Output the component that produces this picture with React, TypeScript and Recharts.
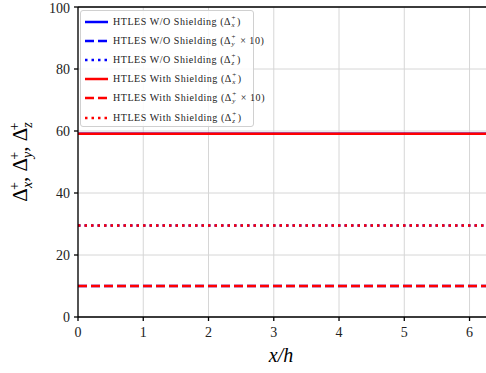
import React from "react";
import {
  LineChart,
  Line,
  XAxis,
  YAxis,
  CartesianGrid,
  ReferenceLine,
} from "recharts";

// x/h positions sampled along the channel (0 .. 2π)
const xPositions = [0, 1, 2, 3, 4, 5, 6, 6.283];

// constant grid spacing values
const noShieldDx = [59.1, 59.1, 59.1, 59.1, 59.1, 59.1, 59.1, 59.1];
const noShieldDy10 = [10, 10, 10, 10, 10, 10, 10, 10];
const noShieldDz = [29.5, 29.5, 29.5, 29.5, 29.5, 29.5, 29.5, 29.5];
const shieldDx = [59.1, 59.1, 59.1, 59.1, 59.1, 59.1, 59.1, 59.1];
const shieldDy10 = [10, 10, 10, 10, 10, 10, 10, 10];
const shieldDz = [29.5, 29.5, 29.5, 29.5, 29.5, 29.5, 29.5, 29.5];

const xTicks = [0, 1, 2, 3, 4, 5, 6];
const yTicks = [0, 20, 40, 60, 80, 100];

const data = xPositions.map((x, i) => ({
  x,
  nDx: noShieldDx[i],
  nDy: noShieldDy10[i],
  nDz: noShieldDz[i],
  sDx: shieldDx[i],
  sDy: shieldDy10[i],
  sDz: shieldDz[i],
}));

const BLUE = "#0000ff";
const RED = "#ff0000";
const FONT = "Liberation Serif, serif";

const series = [
  { key: "nDx", color: BLUE, dash: undefined, label: "HTLES W/O Shielding", comp: "x", times: false },
  { key: "nDy", color: BLUE, dash: "9 4", label: "HTLES W/O Shielding", comp: "y", times: true },
  { key: "nDz", color: BLUE, dash: "2.5 4", label: "HTLES W/O Shielding", comp: "z", times: false },
  { key: "sDx", color: RED, dash: undefined, label: "HTLES With Shielding", comp: "x", times: false },
  { key: "sDy", color: RED, dash: "9 4", label: "HTLES With Shielding", comp: "y", times: true },
  { key: "sDz", color: RED, dash: "2.5 4", label: "HTLES With Shielding", comp: "z", times: false },
];

const Delta = ({ c }: { c: string }) => (
  <span>
    Δ
    <span
      style={{
        display: "inline-block",
        position: "relative",
        width: 6,
        height: 8,
        fontSize: 7,
        verticalAlign: "baseline",
      }}
    >
      <span style={{ position: "absolute", left: 0.5, top: -4 }}>+</span>
      <span style={{ position: "absolute", left: 0.5, top: 3, fontStyle: "italic" }}>{c}</span>
    </span>
  </span>
);

const LegendBox = () => (
  <div
    style={{
      position: "absolute",
      left: 80,
      top: 10,
      width: 174,
      height: 117,
      boxSizing: "border-box",
      border: "1px solid #d0d0d0",
      borderRadius: 3,
      background: "rgba(255,255,255,0.85)",
      padding: "1px 4px 0 4px",
      fontFamily: FONT,
      fontSize: 10,
      letterSpacing: 0.55,
      color: "#222",
    }}
  >
    {series.map((s) => (
      <div key={s.key} style={{ display: "flex", alignItems: "center", height: 19.2 }}>
        <svg width={23} height={6} style={{ marginRight: 5, flexShrink: 0 }}>
          <line
            x1={0}
            y1={3}
            x2={23}
            y2={3}
            stroke={s.color}
            strokeWidth={2.5}
            strokeDasharray={s.dash}
          />
        </svg>
        <span style={{ whiteSpace: "nowrap", lineHeight: "10px" }}>
          {s.label} (<Delta c={s.comp} />
          {s.times ? " × 10" : ""})
        </span>
      </div>
    ))}
  </div>
);

const YLabel = () => (
  <text
    transform="translate(27,162) rotate(-90)"
    textAnchor="middle"
    fontFamily={FONT}
    fontSize={21}
    fill="#000"
  >
    <tspan>Δ</tspan>
    <tspan fontSize={14} fontStyle="italic" dy={5}>x</tspan>
    <tspan fontSize={14} dx={-8} dy={-13}>+</tspan>
    <tspan dy={8}>, Δ</tspan>
    <tspan fontSize={14} fontStyle="italic" dy={5}>y</tspan>
    <tspan fontSize={14} dx={-8} dy={-13}>+</tspan>
    <tspan dy={8}>, Δ</tspan>
    <tspan fontSize={14} fontStyle="italic" dy={5}>z</tspan>
    <tspan fontSize={14} dx={-8} dy={-13}>+</tspan>
  </text>
);

const XLabel = () => (
  <text x={281} y={362} textAnchor="middle" fontFamily={FONT} fontSize={20} fontStyle="italic" fill="#000">
    x/h
  </text>
);

export default function App() {
  return (
    <div style={{ position: "absolute", left: 0, top: 0, width: 486, height: 373, overflow: "hidden", background: "#fff" }}>
      <LineChart
        width={490}
        height={373}
        data={data}
        margin={{ top: 7, right: 2, bottom: 0, left: 0 }}
      >
        <CartesianGrid stroke="#d6d6d6" strokeWidth={1} />
        <XAxis
          dataKey="x"
          type="number"
          domain={[0, 6.283]}
          ticks={xTicks}
          allowDataOverflow
          height={56}
          stroke="#000"
          strokeWidth={1.3}
          tickSize={4}
          tick={{ fill: "#222", fontFamily: FONT, fontSize: 14 }}
          tickMargin={6}
          label={{ content: <XLabel /> }}
        />
        <YAxis
          type="number"
          domain={[0, 100]}
          ticks={yTicks}
          width={78}
          stroke="#000"
          strokeWidth={1.3}
          tickSize={4}
          tick={{ fill: "#222", fontFamily: FONT, fontSize: 14 }}
          tickMargin={4}
          label={{ content: <YLabel /> }}
        />
        <ReferenceLine y={100} stroke="#000" strokeWidth={1.3} />
        {series.map((s) => (
          <Line
            key={s.key}
            type="linear"
            dataKey={s.key}
            stroke={s.color}
            strokeWidth={2.5}
            strokeDasharray={s.dash}
            dot={false}
            isAnimationActive={false}
          />
        ))}
      </LineChart>
      <LegendBox />
    </div>
  );
}
